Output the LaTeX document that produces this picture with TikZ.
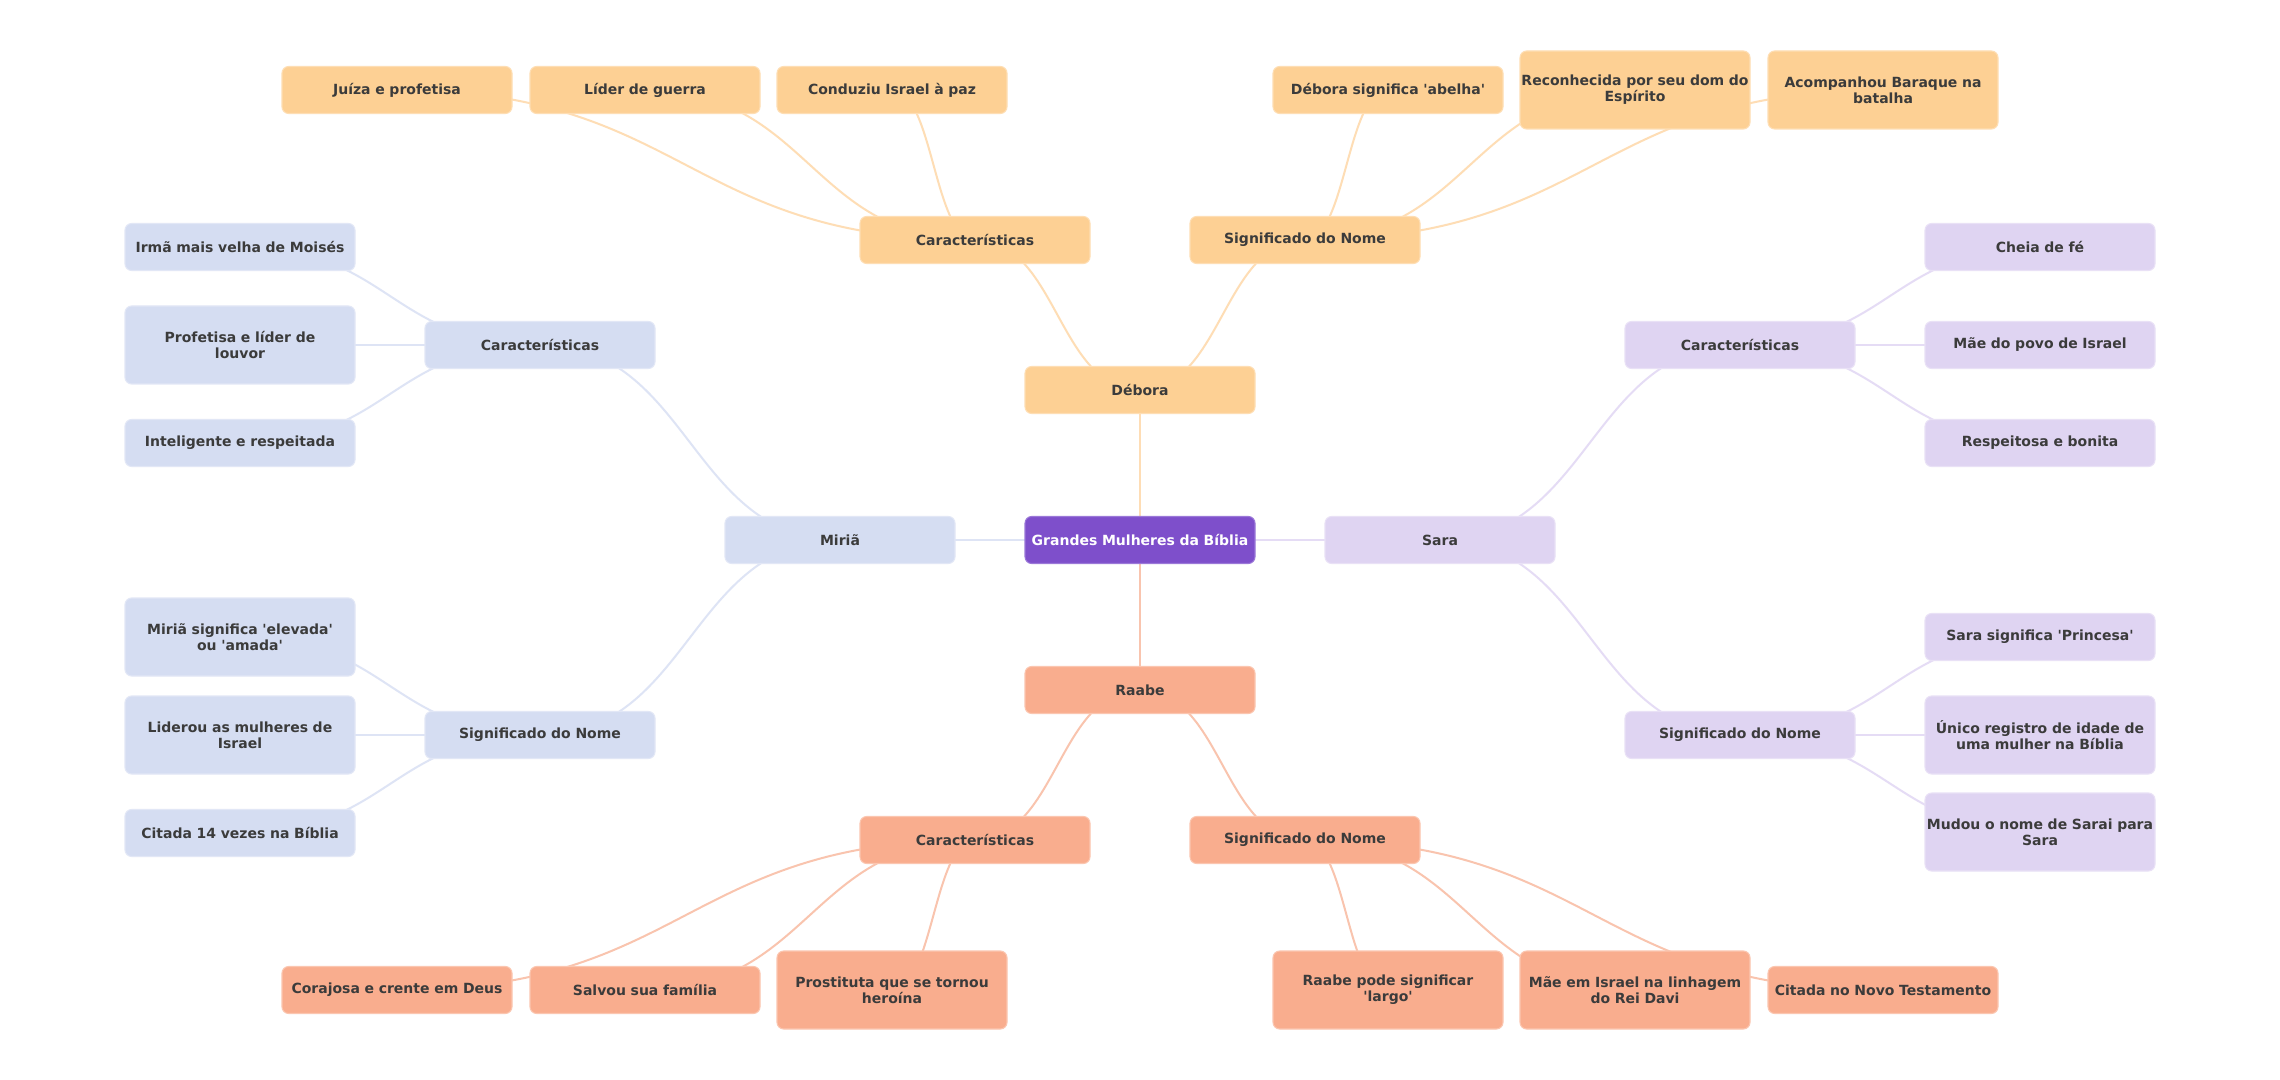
\documentclass[tikz,border=0pt]{standalone}
\usepackage{fontspec}
\setmainfont{DejaVu Sans}
\setmonofont{DejaVu Sans}
\newcommand\sq{{\ttfamily'}}
\usetikzlibrary{calc,backgrounds}
\definecolor{rootfill}{HTML}{7E4FCB}
\definecolor{rootdraw}{HTML}{9B78D8}
\definecolor{debfill}{HTML}{FDD094}
\definecolor{debline}{HTML}{FEDDB5}
\definecolor{rabfill}{HTML}{F9AD8E}
\definecolor{rabline}{HTML}{F9C4AE}
\definecolor{mirfill}{HTML}{D5DDF2}
\definecolor{mirline}{HTML}{DEE4F5}
\definecolor{sarfill}{HTML}{DFD4F2}
\definecolor{sarline}{HTML}{E5DCF5}
\definecolor{txt}{HTML}{3B3B3B}
\tikzset{
  box/.style={rectangle, rounded corners=5pt, minimum width=172.5pt, minimum height=35.25pt,
    text width=172.5pt, inner xsep=0pt, inner ysep=0pt, align=center, text=txt,
    font=\fontsize{10.5}{12}\selectfont\bfseries, line width=0.8pt},
  tall/.style={minimum height=58.5pt},
  rootbox/.style={box, fill=rootfill, draw=rootdraw, text=white},
  debbox/.style={box, fill=debfill, draw=debfill!70!white},
  rabbox/.style={box, fill=rabfill, draw=rabfill!70!white},
  mirbox/.style={box, fill=mirfill, draw=mirfill!70!white},
  sarbox/.style={box, fill=sarfill, draw=sarfill!70!white},
  conn/.style={line width=1.5pt},
}
\newcommand\mmconn[3]{\draw[conn,#3] let \p1=(#1.center), \p2=(#2.center) in
  (\p1) .. controls ({0.5*\x1+0.5*\x2},\y1) and ({0.5*\x1+0.5*\x2},\y2) .. (\p2);}
\begin{document}
\begin{tikzpicture}[x=0.75pt,y=-0.75pt]
\useasboundingbox (0,0) rectangle (2280,1080);
% root and main branches
\node[rootbox] (root) at (1140,540) {Grandes Mulheres da Bíblia};
\node[debbox] (deb) at (1140,390) {Débora};
\node[rabbox] (rab) at (1140,690) {Raabe};
\node[mirbox] (mir) at (840,540) {Miriã};
\node[sarbox] (sar) at (1440,540) {Sara};
% Débora
\node[debbox] (debC) at (975,240) {Características};
\node[debbox] (debS) at (1305,240) {Significado do Nome};
\node[debbox] (debC1) at (397,90) {Juíza e profetisa};
\node[debbox] (debC2) at (645,90) {Líder de guerra};
\node[debbox] (debC3) at (892,90) {Conduziu Israel à paz};
\node[debbox] (debS1) at (1388,90) {Débora significa \sq abelha\sq};
\node[debbox,tall] (debS2) at (1635,90) {Reconhecida por seu dom do\\Espírito};
\node[debbox,tall] (debS3) at (1883,90) {Acompanhou Baraque na\\batalha};
% Raabe
\node[rabbox] (rabC) at (975,840) {Características};
\node[rabbox] (rabS) at (1305,840) {Significado do Nome};
\node[rabbox] (rabC1) at (397,990) {Corajosa e crente em Deus};
\node[rabbox] (rabC2) at (645,990) {Salvou sua família};
\node[rabbox,tall] (rabC3) at (892,990) {Prostituta que se tornou\\heroína};
\node[rabbox,tall] (rabS1) at (1388,990) {Raabe pode significar\\\sq largo\sq};
\node[rabbox,tall] (rabS2) at (1635,990) {Mãe em Israel na linhagem\\do Rei Davi};
\node[rabbox] (rabS3) at (1883,990) {Citada no Novo Testamento};
% Miriã
\node[mirbox] (mirC) at (540,345) {Características};
\node[mirbox] (mirS) at (540,735) {Significado do Nome};
\node[mirbox] (mirC1) at (240,247) {Irmã mais velha de Moisés};
\node[mirbox,tall] (mirC2) at (240,345) {Profetisa e líder de\\louvor};
\node[mirbox] (mirC3) at (240,443) {Inteligente e respeitada};
\node[mirbox,tall] (mirS1) at (240,637) {Miriã significa \sq elevada\sq\\ou \sq amada\sq};
\node[mirbox,tall] (mirS2) at (240,735) {Liderou as mulheres de\\Israel};
\node[mirbox] (mirS3) at (240,833) {Citada 14 vezes na Bíblia};
% Sara
\node[sarbox] (sarC) at (1740,345) {Características};
\node[sarbox] (sarS) at (1740,735) {Significado do Nome};
\node[sarbox] (sarC1) at (2040,247) {Cheia de fé};
\node[sarbox] (sarC2) at (2040,345) {Mãe do povo de Israel};
\node[sarbox] (sarC3) at (2040,443) {Respeitosa e bonita};
\node[sarbox] (sarS1) at (2040,637) {Sara significa \sq Princesa\sq};
\node[sarbox,tall] (sarS2) at (2040,735) {Único registro de idade de\\uma mulher na Bíblia};
\node[sarbox,tall] (sarS3) at (2040,832) {Mudou o nome de Sarai para\\Sara};
\begin{pgfonlayer}{background}
\fill[white] (0,0) rectangle (2280,1080);
\mmconn{root}{deb}{debline}
\mmconn{root}{rab}{rabline}
\mmconn{root}{mir}{mirline}
\mmconn{root}{sar}{sarline}
\mmconn{deb}{debC}{debline}
\mmconn{deb}{debS}{debline}
\mmconn{debC}{debC1}{debline}
\mmconn{debC}{debC2}{debline}
\mmconn{debC}{debC3}{debline}
\mmconn{debS}{debS1}{debline}
\mmconn{debS}{debS2}{debline}
\mmconn{debS}{debS3}{debline}
\mmconn{rab}{rabC}{rabline}
\mmconn{rab}{rabS}{rabline}
\mmconn{rabC}{rabC1}{rabline}
\mmconn{rabC}{rabC2}{rabline}
\mmconn{rabC}{rabC3}{rabline}
\mmconn{rabS}{rabS1}{rabline}
\mmconn{rabS}{rabS2}{rabline}
\mmconn{rabS}{rabS3}{rabline}
\mmconn{mir}{mirC}{mirline}
\mmconn{mir}{mirS}{mirline}
\mmconn{mirC}{mirC1}{mirline}
\mmconn{mirC}{mirC2}{mirline}
\mmconn{mirC}{mirC3}{mirline}
\mmconn{mirS}{mirS1}{mirline}
\mmconn{mirS}{mirS2}{mirline}
\mmconn{mirS}{mirS3}{mirline}
\mmconn{sar}{sarC}{sarline}
\mmconn{sar}{sarS}{sarline}
\mmconn{sarC}{sarC1}{sarline}
\mmconn{sarC}{sarC2}{sarline}
\mmconn{sarC}{sarC3}{sarline}
\mmconn{sarS}{sarS1}{sarline}
\mmconn{sarS}{sarS2}{sarline}
\mmconn{sarS}{sarS3}{sarline}
\end{pgfonlayer}
\end{tikzpicture}
\end{document}
